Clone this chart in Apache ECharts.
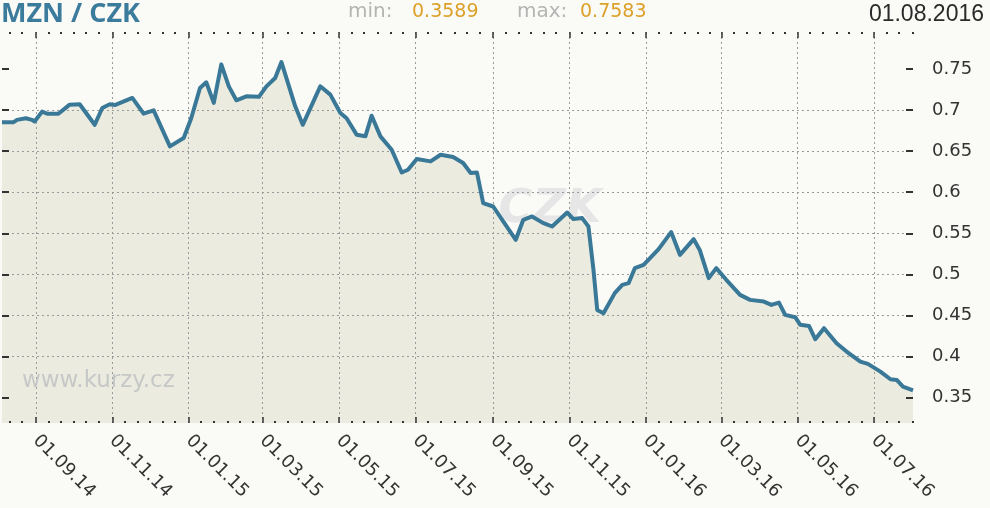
<!DOCTYPE html>
<html>
<head>
<meta charset="utf-8">
<script src="https://cdn.jsdelivr.net/npm/echarts@6/dist/echarts.min.js"></script>
<style>
html,body{margin:0;padding:0;background:#fafaf7;}
#chart{width:990px;height:508px;}
</style>
</head>
<body>
<div id="chart"></div>
<script>
// ---- data ----
var startDate = '2014-08-05';
var endDate = '2016-08-01';
var rateDates = [
 '2014-08-05','2014-08-14','2014-08-17','2014-08-24','2014-08-29','2014-08-31',
 '2014-09-06','2014-09-10','2014-09-19','2014-09-28','2014-10-06','2014-10-18',
 '2014-10-24','2014-10-30','2014-11-03','2014-11-17','2014-11-26','2014-12-04',
 '2014-12-17','2014-12-28','2015-01-03','2015-01-10','2015-01-15','2015-01-21',
 '2015-01-27','2015-02-02','2015-02-08','2015-02-16','2015-02-26','2015-03-04',
 '2015-03-11','2015-03-16','2015-03-27','2015-04-02','2015-04-16','2015-04-24',
 '2015-05-02','2015-05-07','2015-05-15','2015-05-22','2015-05-27','2015-06-03',
 '2015-06-12','2015-06-20','2015-06-25','2015-07-02','2015-07-13','2015-07-21',
 '2015-07-31','2015-08-08','2015-08-14','2015-08-19','2015-08-24','2015-09-01',
 '2015-09-09','2015-09-19','2015-09-25','2015-10-02','2015-10-11','2015-10-18',
 '2015-10-30','2015-11-04','2015-11-11','2015-11-16','2015-11-20','2015-11-23',
 '2015-11-28','2015-12-07','2015-12-13','2015-12-18','2015-12-23','2015-12-30',
 '2016-01-11','2016-01-21','2016-01-28','2016-02-08','2016-02-13','2016-02-20',
 '2016-02-26','2016-03-05','2016-03-16','2016-03-24','2016-04-04','2016-04-10',
 '2016-04-16','2016-04-21','2016-04-29','2016-05-03','2016-05-10','2016-05-15',
 '2016-05-22','2016-06-01','2016-06-09','2016-06-20','2016-06-26','2016-07-06',
 '2016-07-14','2016-07-19','2016-07-24','2016-08-01'
];
var rateValues = [
 0.685,0.685,0.688,0.690,0.688,0.686,
 0.698,0.6955,0.6955,0.7065,0.707,0.682,
 0.7025,0.707,0.706,0.7147,0.6955,0.6996,
 0.6557,0.666,0.690,0.7268,0.7337,0.7086,
 0.7555,0.7288,0.7118,0.7167,0.716,0.7288,
 0.739,0.7583,0.7045,0.682,0.7288,0.7187,
 0.6964,0.690,0.670,0.668,0.6931,0.6679,
 0.6517,0.624,0.6273,0.6404,0.6375,0.6456,
 0.6428,0.6355,0.6233,0.624,0.5868,0.5826,
 0.5644,0.5421,0.5664,0.5705,0.5624,0.5583,
 0.5753,0.5673,0.5685,0.5583,0.5056,0.4568,
 0.4528,0.4772,0.4873,0.4893,0.5076,0.5116,
 0.5308,0.5515,0.5238,0.5429,0.529,0.4954,
 0.5076,0.4934,0.4751,0.4690,0.4669,0.4629,
 0.4657,0.4507,0.4479,0.4386,0.4373,0.4211,
 0.4345,0.4163,0.4061,0.3939,0.3911,0.3817,
 0.3724,0.3716,0.3634,0.3589
];
var yTicks = [0.35, 0.4, 0.45, 0.5, 0.55, 0.6, 0.65, 0.7, 0.75];
var yMin = 0.3192, yMax = 0.7949;
var titleText = 'MZN / CZK';
var minText = '0.3589', maxText = '0.7583';
var dateText = '01.08.2016';

// ---- build day categories ----
function pad(n){return n<10?'0'+n:''+n;}
var days = [];
(function(){
  var d = new Date(startDate + 'T00:00:00Z');
  var e = new Date(endDate + 'T00:00:00Z');
  while (d.getTime() <= e.getTime()) {
    days.push(d.getUTCFullYear()+'-'+pad(d.getUTCMonth()+1)+'-'+pad(d.getUTCDate()));
    d = new Date(d.getTime() + 86400000);
  }
})();
function isMajor(i, v){
  var m = +v.slice(5,7), dd = +v.slice(8,10);
  return dd === 1 && (m % 2 === 1);
}
function isMinor(i, v){
  var m = +v.slice(5,7), dd = +v.slice(8,10);
  if (dd === 11 || dd === 21) return true;
  return dd === 1 && (m % 2 === 0);
}
var seriesData = rateDates.map(function(d, i){ return [d, rateValues[i]]; });

var FONT = 'DejaVu Sans';
function xAxisCfg(pos, major){
  return {
    type: 'category', data: days, position: pos, boundaryGap: false,
    gridIndex: 0, z: 5,
    axisLine: {show: false},
    axisTick: {show: true, inside: true, length: major ? 6 : 2,
      interval: major ? isMajor : isMinor,
      lineStyle: {color: '#333', width: major ? 1.5 : 2}},
    axisLabel: {show: pos === 'bottom' && major, interval: isMajor, rotate: -45,
      margin: 15, fontFamily: FONT, fontSize: 18, color: '#333',
      formatter: function(v){ return v.slice(8,10)+'.'+v.slice(5,7)+'.'+v.slice(2,4); }},
    splitLine: {show: pos === 'bottom' && major, interval: isMajor,
      lineStyle: {color: '#9a9a9a', width: 1, type: [2, 3]}}
  };
}
function yAxisCfg(pos){
  return {
    type: 'value', position: pos, min: yMin, max: yMax, splitNumber: 9, z: 5,
    axisLine: {show: false},
    axisTick: {show: true, inside: true, length: 7, customValues: yTicks,
      lineStyle: {color: '#333', width: 2}},
    axisLabel: {show: pos === 'right', customValues: yTicks, margin: 19,
      fontFamily: FONT, fontSize: 18, color: '#333'},
    splitLine: {show: pos === 'right', showMinLine: false, showMaxLine: false,
      lineStyle: {color: '#9a9a9a', width: 1, type: [2, 3]}}
  };
}

var chart = echarts.init(document.getElementById('chart'), null, {renderer: 'canvas'});
chart.setOption({
  backgroundColor: '#fafaf7',
  animation: false,
  grid: {left: 2, right: 77, top: 32, bottom: 85},
  xAxis: [xAxisCfg('bottom', true), xAxisCfg('bottom', false), xAxisCfg('top', true), xAxisCfg('top', false)],
  yAxis: [yAxisCfg('right'), yAxisCfg('left')],
  graphic: [
    {type: 'text', left: 1, top: 1, z: 10, style: {text: titleText, fontFamily: 'Open Sans', fontWeight: 'bold', fontSize: 27, fill: '#3b7b9c'}},
    {type: 'text', x: 348, y: 12, z: 10, style: {text: 'min:', fontFamily: FONT, fontSize: 20, fill: '#b4b4b4', verticalAlign: 'middle'}},
    {type: 'text', x: 412, y: 12, z: 10, style: {text: minText, fontFamily: FONT, fontSize: 19, fill: '#dda12a', verticalAlign: 'middle'}},
    {type: 'text', x: 517, y: 12, z: 10, style: {text: 'max:', fontFamily: FONT, fontSize: 20, fill: '#b4b4b4', verticalAlign: 'middle'}},
    {type: 'text', x: 580, y: 12, z: 10, style: {text: maxText, fontFamily: FONT, fontSize: 19, fill: '#dda12a', verticalAlign: 'middle'}},
    {type: 'text', x: 984, y: 15, z: 10, style: {text: dateText, fontFamily: 'Liberation Sans', fontSize: 23, fill: '#2a2a2a', align: 'right', verticalAlign: 'middle'}},
    {type: 'text', x: 22, y: 381, z: 10, style: {text: 'www.kurzy.cz', fontFamily: FONT, fontSize: 23, fill: '#c6c8c8', verticalAlign: 'middle'}},
    {type: 'text', x: 550, y: 210, z: -1, style: {text: 'CZK', fontFamily: FONT, fontWeight: 'bold', fontStyle: 'italic', fontSize: 46, fill: '#e6e6e6', align: 'center', verticalAlign: 'middle'}}
  ],
  series: [
    {type: 'line', name: 'area', xAxisIndex: 0, yAxisIndex: 0, data: seriesData, z: 1,
      showSymbol: false, symbol: 'none', lineStyle: {width: 0, opacity: 0},
      areaStyle: {color: '#ebecdf', opacity: 1}, silent: true},
    {type: 'line', name: 'MZN/CZK', xAxisIndex: 0, yAxisIndex: 0, data: seriesData, z: 8,
      showSymbol: false, symbol: 'none', lineStyle: {width: 4, color: '#3a7898', join: 'round'}}
  ]
});
</script>
</body>
</html>
